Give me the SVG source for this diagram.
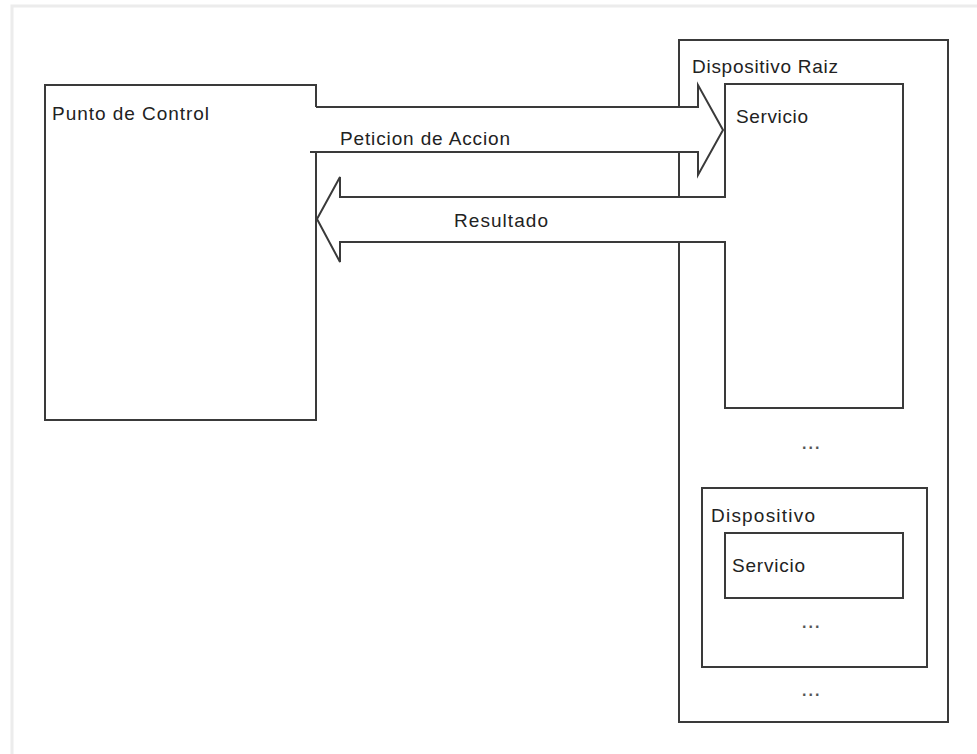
<svg xmlns="http://www.w3.org/2000/svg" width="977" height="754" viewBox="0 0 977 754">
  <style>
    .box { fill: #ffffff; stroke: #3a3a3a; stroke-width: 2; }
    .lbl { font-family: "Liberation Sans", Arial, sans-serif; font-size: 19px; fill: #222222; }
    .dots { font-family: "Liberation Sans", Arial, sans-serif; font-size: 16px; font-weight: bold; fill: #555555; letter-spacing: 2px; }
    .arrow-fill { fill: #ffffff; stroke: none; }
    .arrow-line { fill: none; stroke: #3a3a3a; stroke-width: 2; stroke-linejoin: miter; }
    .frame { fill: none; stroke: #ececec; stroke-width: 3; }
  </style>

  <rect x="0" y="0" width="977" height="754" fill="#ffffff"/>
  <!-- faint page frame, top and left edges -->
  <polyline class="frame" points="12,754 12,6 977,6"/>

  <g id="punto-de-control">
    <rect class="box" x="45" y="85" width="271" height="335"/>
    <text class="lbl" x="52" y="120" textLength="157">Punto de Control</text>
  </g>

  <g id="dispositivo-raiz">
    <rect class="box" x="679" y="40" width="269" height="682"/>
    <text class="lbl" x="692" y="73" textLength="146">Dispositivo Raiz</text>
    <text class="dots" x="802" y="449">...</text>
    <text class="dots" x="802" y="696">...</text>
  </g>

  <g id="servicio-raiz">
    <rect class="box" x="725" y="84" width="178" height="324"/>
    <text class="lbl" x="736" y="123" textLength="72">Servicio</text>
  </g>

  <g id="dispositivo">
    <rect class="box" x="702" y="488" width="225" height="179"/>
    <text class="lbl" x="711" y="522" textLength="104">Dispositivo</text>
    <text class="dots" x="802" y="628">...</text>
  </g>

  <g id="servicio">
    <rect class="box" x="725" y="533" width="178" height="65"/>
    <text class="lbl" x="732" y="572" textLength="73">Servicio</text>
  </g>

  <g id="connectors">
    <!-- request arrow: control point to service -->
    <g id="peticion">
      <polygon class="arrow-fill" points="310,107 698,107 698,85 723,130 698,175 698,152 310,152"/>
      <polyline class="arrow-line" points="316,107 698,107 698,85 723,130 698,175 698,152 310,152"/>
      <text class="lbl" x="340" y="145" textLength="170">Peticion de Accion</text>
    </g>
    <!-- result arrow: service back to control point -->
    <g id="resultado">
      <polygon class="arrow-fill" points="726,197 340,197 340,177 317,219 340,262 340,242 726,242"/>
      <polyline class="arrow-line" points="726,197 340,197 340,177 317,219 340,262 340,242 726,242"/>
      <text class="lbl" x="454" y="227" textLength="94">Resultado</text>
    </g>
  </g>
</svg>
